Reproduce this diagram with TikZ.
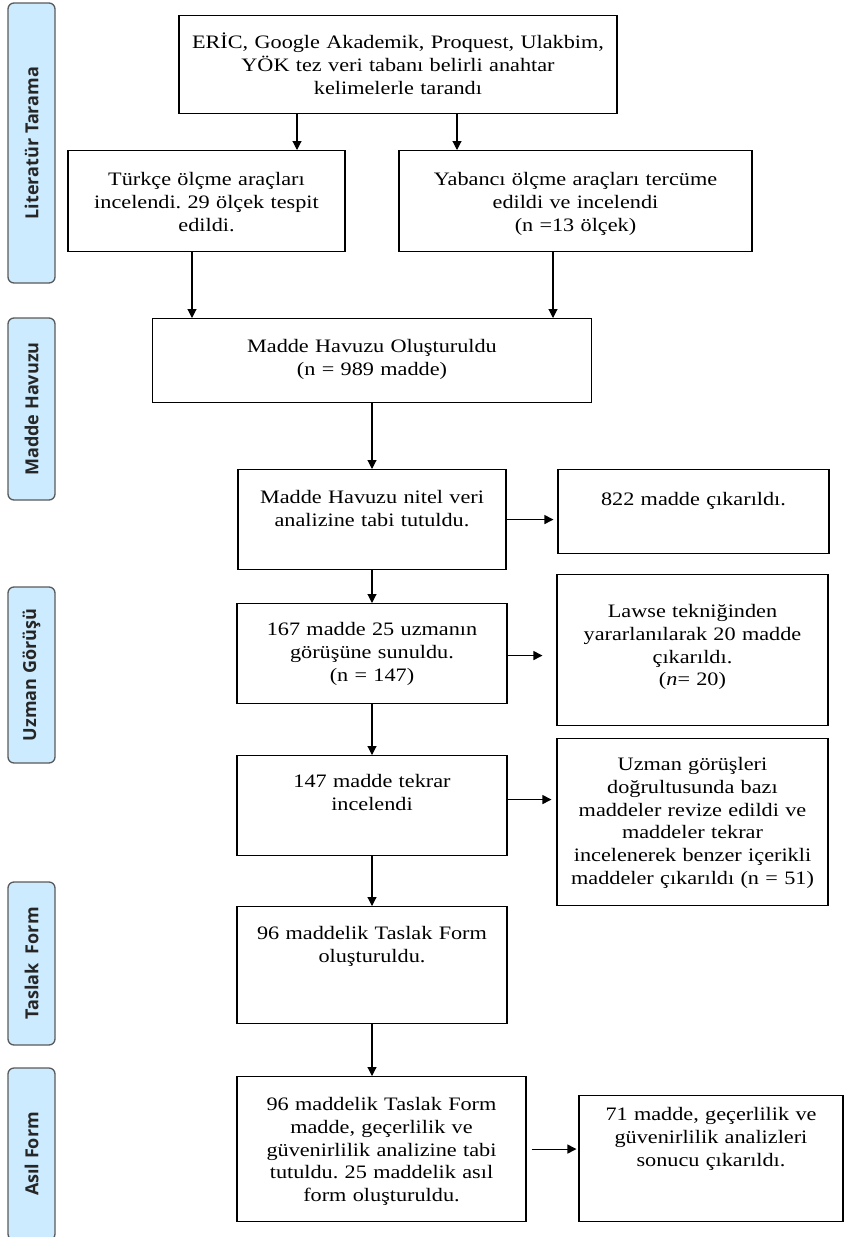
\documentclass[tikz,border=0pt]{standalone}
\usepackage{fontspec}
\setmainfont{Liberation Serif}[FakeStretch=1.17]
\newfontfamily\sidefont{Open Sans}
\usetikzlibrary{arrows.meta, positioning}
\definecolor{phaseblue}{HTML}{CCEBFE}
\definecolor{phaseline}{HTML}{5A5A5A}
\frenchspacing
\tikzset{
    every edge/.style = {
        draw,
        -{Triangle[length=9pt, width=9pt]},
        line width=1.1pt
    },
    arr/.style = {
        -{Triangle[length=9pt, width=9pt]},
        line width=1.1pt
    },
    box/.style = {
        draw,
        line width=1.1pt,
        align=center,
        anchor=north,
        inner sep=0pt,
        font=\fontsize{19}{22.8}\selectfont
    },
    boxsize/.style n args = {3}{
        text width=#1,
        text height=#2,
        text depth=#3
    },
    phase/.style = {
        draw=phaseline,
        fill=phaseblue,
        line width=1.3pt,
        rounded corners=6pt,
        rotate=90,
        minimum height=47pt,
        inner sep=0pt,
        text=black!85,
        font=\sidefont\bfseries\fontsize{18}{20}\selectfont
    }
}
\begin{document}
\begin{tikzpicture}[x=1pt, y=-1pt]
    \useasboundingbox (0,0) rectangle (847,1237);
    \foreach \nm/\yy/\len/\lbl in {lit/143/280/{Literatür Tarama}, mh/409/182/{Madde Havuzu}, uz/675/176/{Uzman Görüşü}, ts/963.5/163/{Taslak~~Form}, af/1154/172/{Asıl Form}}{
        \node[phase, minimum width=\len] (\nm) at (31.5,\yy) {\lbl};
    }

    \node[box, boxsize={438pt}{33pt}{65pt}] (src) at (398,15) {ERİC, Google Akademik, Proquest, Ulakbim,\\YÖK tez veri tabanı belirli anahtar\\kelimelerle tarandı};
    \node[box, boxsize={277pt}{35pt}{66pt}] (tr) at (206.5,150) {Türkçe ölçme araçları\\incelendi. 29 ölçek tespit\\edildi.};
    \node[box, boxsize={353pt}{35pt}{66pt}] (yab) at (575.5,150) {Yabancı ölçme araçları tercüme\\edildi ve incelendi\\(n =13 ölçek)};
    \node[box, boxsize={439pt}{34pt}{50pt}] (havuz) at (372,318) {Madde Havuzu Oluşturuldu\\(n = 989 madde)};
    \node[box, boxsize={268pt}{34pt}{66pt}] (nitel) at (372,469) {Madde Havuzu nitel veri\\analizine tabi tutuldu.};
    \node[box, boxsize={271pt}{36pt}{48pt}] (cik1) at (693.5,469) {822 madde çıkarıldı.};
    \node[box, boxsize={270pt}{32pt}{68pt}] (sun) at (372,603) {167 madde 25 uzmanın\\görüşüne sunuldu.\\(n = 147)};
    \node[box, boxsize={271pt}{43pt}{108pt}] (lawse) at (692.5,574) {Lawse tekniğinden\\yararlanılarak 20 madde\\çıkarıldı.\\(\textit{n}= 20)};
    \node[box, boxsize={270pt}{32pt}{68pt}] (tekrar) at (372,755) {147 madde tekrar\\incelendi};
    \node[box, boxsize={271pt}{32pt}{135pt}] (revize) at (692.5,738) {Uzman görüşleri\\doğrultusunda bazı\\maddeler revize edildi ve\\maddeler tekrar\\incelenerek benzer içerikli\\maddeler çıkarıldı (n = 51)};
    \node[box, boxsize={270pt}{33pt}{84pt}] (taslak) at (372,906) {96 maddelik Taslak Form\\oluşturuldu.};
    \node[box, boxsize={289pt}{34pt}{111pt}] (asil) at (381.5,1076) {96 maddelik Taslak Form\\madde, geçerlilik ve\\güvenirlilik analizine tabi\\tutuldu. 25 maddelik asıl\\form oluşturuldu.};
    \node[box, boxsize={264pt}{25pt}{101pt}] (cik2) at (711,1095) {71 madde, geçerlilik ve\\güvenirlilik analizleri\\sonucu çıkarıldı.};

    \draw[arr] ([xshift=-101pt]src.south) -- ([xshift=-101pt]src.south |- tr.north);
    \draw[arr] ([xshift=59pt]src.south) -- ([xshift=59pt]src.south |- yab.north);
    \draw[arr] ([xshift=-14.5pt]tr.south) -- ([xshift=-14.5pt]tr.south |- havuz.north);
    \draw[arr] ([xshift=-22.5pt]yab.south) -- ([xshift=-22.5pt]yab.south |- havuz.north);
    \foreach \a/\b in {havuz/nitel, nitel/sun, sun/tekrar, tekrar/taslak}{
        \draw (\a) edge (\b);
    }
    \draw[arr] (taslak.south) -- (taslak.south |- asil.north);
    \draw[arr, shorten >=4pt] (nitel.east) -- (nitel.east -| cik1.west);
    \draw[arr, shorten >=14pt] ([yshift=-2pt]sun.east) -- ([yshift=-2pt]sun.east -| lawse.west);
    \draw[arr, shorten >=5pt] ([yshift=6pt]tekrar.east) -- ([yshift=6pt]tekrar.east -| revize.west);
    \draw[arr, shorten <=5pt, shorten >=2pt] (asil.east) -- (asil.east -| cik2.west);
\end{tikzpicture}
\end{document}
